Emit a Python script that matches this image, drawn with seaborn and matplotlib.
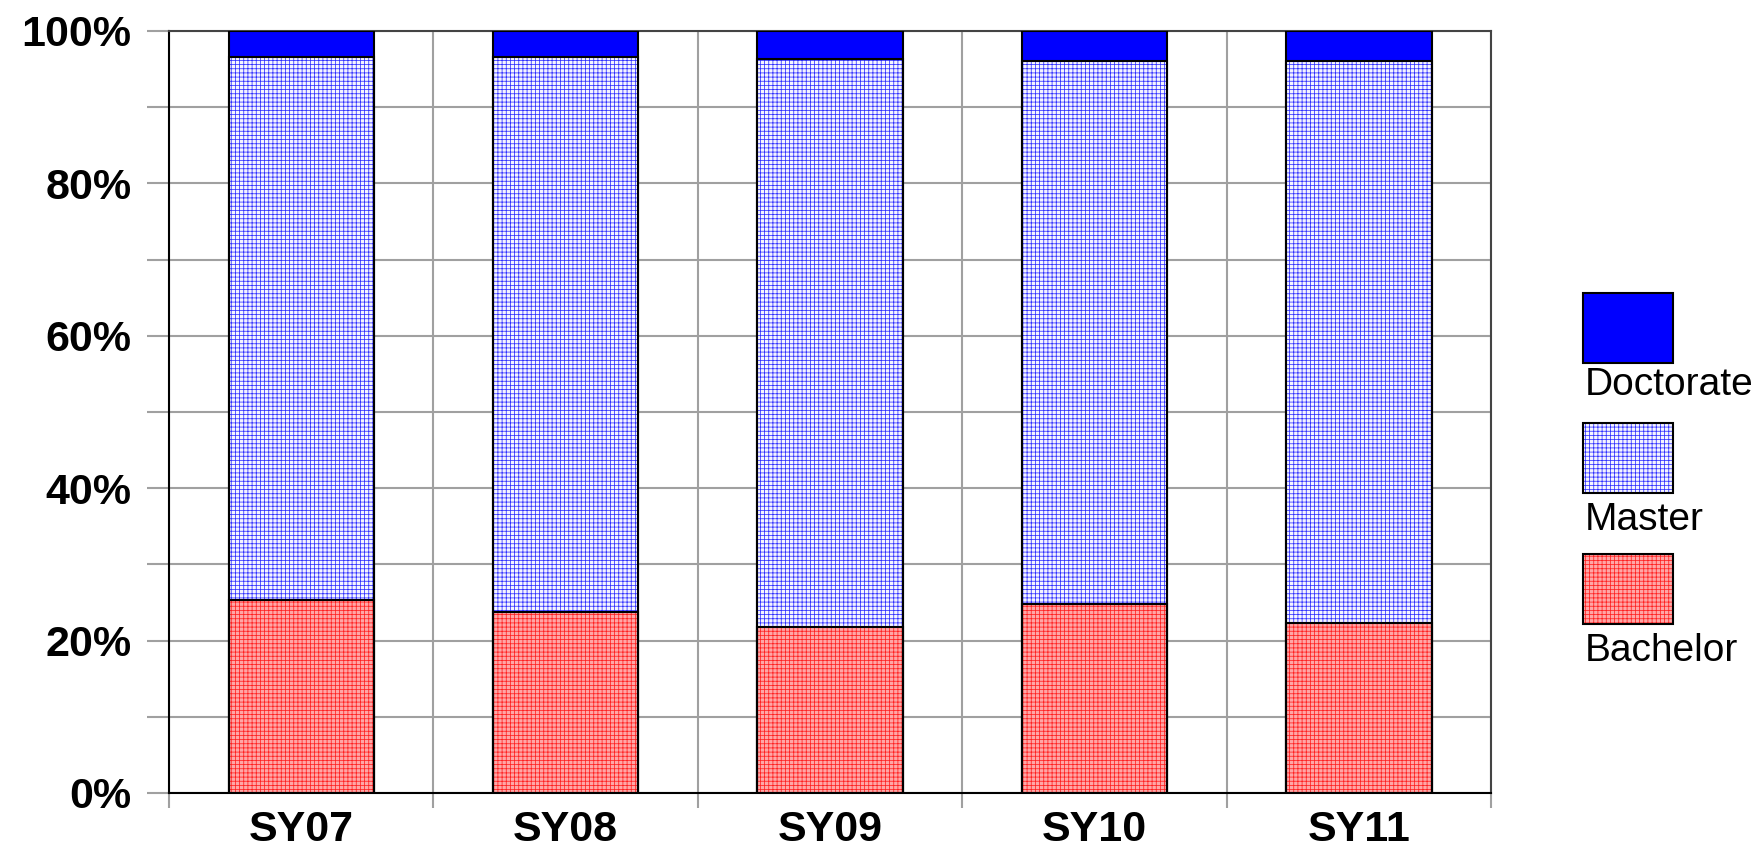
import numpy as np
import pandas as pd
import seaborn as sns
import matplotlib.pyplot as plt
from matplotlib.patches import Rectangle
from matplotlib.ticker import MultipleLocator, PercentFormatter

years = ['SY07', 'SY08', 'SY09', 'SY10', 'SY11']
bachelor = [25.3, 23.7, 21.8, 24.8, 22.3]
master = [71.3, 72.9, 74.5, 71.3, 73.8]
doctorate = [3.4, 3.4, 3.7, 3.9, 3.9]

sns.set_style('white')
plt.rcParams['font.family'] = ['Liberation Sans', 'DejaVu Sans']
plt.rcParams['hatch.linewidth'] = 0.55
plt.rcParams['text.color'] = 'black'
plt.rcParams['xtick.color'] = 'black'
plt.rcParams['ytick.color'] = 'black'

df = pd.DataFrame({'year': years, 'Bachelor': bachelor,
                   'Master': master, 'Doctorate': doctorate})
df['master_top'] = df['Bachelor'] + df['Master']
df['total'] = df['master_top'] + df['Doctorate']

fig = plt.figure(figsize=(17.65, 8.49), dpi=100)
ax = fig.add_axes([0.0958, 0.066, 0.749, 0.8975])

grid_col = '#a0a0a0'
bw = 0.55
master_face, master_hatch = '#f4f4ff', '#3030ff'
bach_face, bach_hatch = '#ffa6a6', '#ff2020'

# stacked bars drawn as layered cumulative bars
sns.barplot(data=df, x='year', y='total', color='#0000ff', saturation=1,
            width=bw, errorbar=None, edgecolor='black', linewidth=1.5, ax=ax, zorder=3)
sns.barplot(data=df, x='year', y='master_top', color=master_face, saturation=1,
            width=bw, errorbar=None, edgecolor=master_hatch, linewidth=0,
            hatch='++++', ax=ax, zorder=3)
sns.barplot(data=df, x='year', y='master_top', color='black', fill=False,
            width=bw, errorbar=None, linewidth=1.5, ax=ax, zorder=4)
sns.barplot(data=df, x='year', y='Bachelor', color=bach_face, saturation=1,
            width=bw, errorbar=None, edgecolor=bach_hatch, linewidth=0,
            hatch='++++', ax=ax, zorder=3)
sns.barplot(data=df, x='year', y='Bachelor', color='black', fill=False,
            width=bw, errorbar=None, linewidth=1.5, ax=ax, zorder=4)

ax.set_xlim(-0.5, len(years) - 0.5)
ax.set_ylim(0, 100)
ax.set_xlabel('')
ax.set_ylabel('')

# y axis
ax.yaxis.set_major_locator(MultipleLocator(20))
ax.yaxis.set_minor_locator(MultipleLocator(10))
ax.yaxis.set_major_formatter(PercentFormatter(100, decimals=0))
ax.tick_params(axis='y', which='both', left=True, direction='out', length=16,
               width=1.5, color=grid_col, pad=11, labelsize=31, labelcolor='black')
ax.grid(axis='y', which='both', color=grid_col, linewidth=1.5, zorder=0)

# x axis: labels at centres, ticks/grid at category boundaries
ax.set_xticks(np.arange(len(years)))
ax.set_xticklabels(years)
ax.set_xticks(np.arange(len(years) + 1) - 0.5, minor=True)
ax.tick_params(axis='x', which='major', length=0, pad=12, labelsize=31,
               labelcolor='black')
ax.tick_params(axis='x', which='minor', bottom=True, direction='out', length=11,
               width=1.5, color=grid_col)
ax.grid(axis='x', which='minor', color=grid_col, linewidth=1.5, zorder=0)
ax.set_axisbelow(True)

for lab in ax.get_xticklabels() + ax.get_yticklabels():
    lab.set_fontweight('bold')

for side in ['left', 'bottom']:
    ax.spines[side].set_color('black')
    ax.spines[side].set_linewidth(1.5)
for side in ['top', 'right']:
    ax.spines[side].set_color('#444444')
    ax.spines[side].set_linewidth(1.5)

# legend: swatch with label underneath
legend_items = [
    ('Doctorate', '#0000ff', None, 'black', 0.5724, 0.5677),
    ('Master', master_face, '++++', master_hatch, 0.4193, 0.4087),
    ('Bachelor', bach_face, '++++', bach_hatch, 0.2650, 0.2544),
]
for name, face, hatch, hcol, y0, ty in legend_items:
    fig.add_artist(Rectangle((0.8969, y0), 0.051, 0.0824, transform=fig.transFigure,
                             facecolor=face, edgecolor=hcol, linewidth=0, hatch=hatch))
    fig.add_artist(Rectangle((0.8969, y0), 0.051, 0.0824, transform=fig.transFigure,
                             fill=False, edgecolor='black', linewidth=1.5))
    fig.text(0.898, ty, name, fontsize=28, va='top', ha='left', color='black')

fig.savefig('out.png', dpi=100)
